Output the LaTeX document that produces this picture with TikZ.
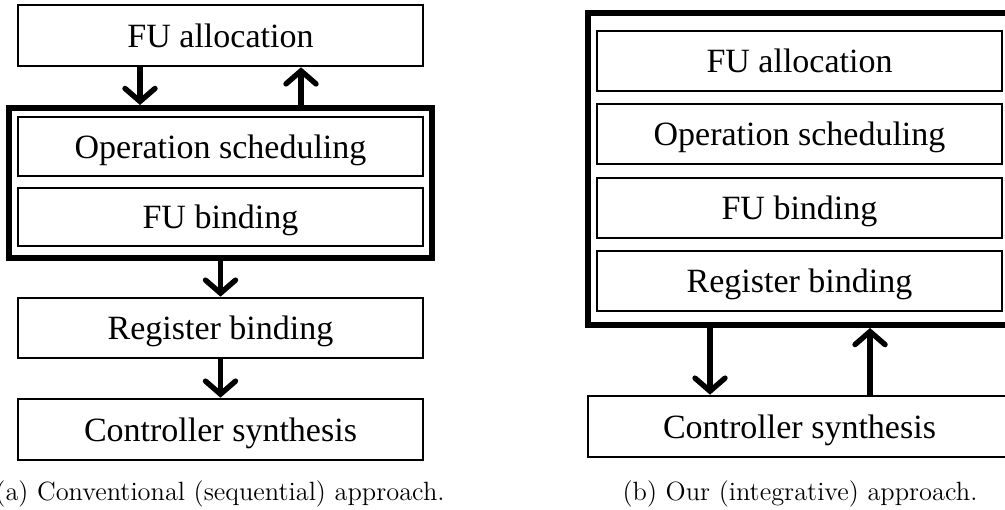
\documentclass[tikz,border=0pt]{standalone}
\usepackage{fontspec}
\newfontfamily\boxfont{Liberation Serif}
\usetikzlibrary{arrows.meta}
\begin{document}
\begin{tikzpicture}[x=0.5pt,y=-0.5pt,
  stage/.style={draw, line width=1.3pt, rectangle, inner sep=0pt,
    minimum width=202.5pt, minimum height=30pt,
    font=\boxfont\fontsize{17}{20}\selectfont,
    text height=12pt, text depth=0.5pt},
  wide/.style={minimum width=211.5pt},
  group/.style={draw, line width=3pt, rectangle, inner sep=0pt,
    minimum width=211.5pt},
  flow/.style={line width=2.7pt,
    -{Straight Barb[length=6.5pt,width=15pt,line cap=round]}},
  caption/.style={anchor=base, inner sep=0pt, font=\fontsize{13.2}{16}\selectfont}]
\useasboundingbox (0,0) rectangle (1005,509);

% (a) sequential flow
\node[stage, minimum height=30.5pt] (allocA) at (220.5,35.5) {FU allocation};
\node[group, minimum height=75pt] (grpA) at (220.5,183) {};
\node[stage, minimum height=29.5pt] (schedA) at (220.5,146.5) {Operation scheduling};
\node[stage, minimum height=29pt] (fubA) at (220.5,217) {FU binding};
\node[stage] (regA) at (220.5,328) {Register binding};
\node[stage, minimum height=30.5pt] (ctlA) at (220.5,429.5) {Controller synthesis};

\draw[flow] ([xshift=-40.25pt]allocA.south) -- ([xshift=-40.25pt]grpA.north);
\draw[flow] ([xshift=40.25pt]grpA.north) -- ([xshift=40.25pt]allocA.south);
\draw[flow] (grpA.south) -- (regA.north);
\draw[flow] (regA.south) -- (ctlA.north);

\node[caption] (capA) at (220,500) {(a) Conventional (sequential) approach.};

% (b) integrative flow
\node[group, minimum height=156pt] (grpB) at (799.5,169) {};
\node[stage] (allocB) at (799.5,61) {FU allocation};
\node[stage] (schedB) at (799.5,134) {Operation scheduling};
\node[stage] (fubB) at (799.5,208) {FU binding};
\node[stage] (regB) at (799.5,281) {Register binding};
\node[stage, wide, minimum height=30.5pt] (ctlB) at (799.5,426.5) {Controller synthesis};

\draw[flow] ([xshift=-44.75pt]grpB.south) -- ([xshift=-44.75pt]ctlB.north);
\draw[flow] ([xshift=35.25pt]ctlB.north) -- ([xshift=35.25pt]grpB.south);

\node[caption] (capB) at (800,500) {(b) Our (integrative) approach.};
\end{tikzpicture}
\end{document}
